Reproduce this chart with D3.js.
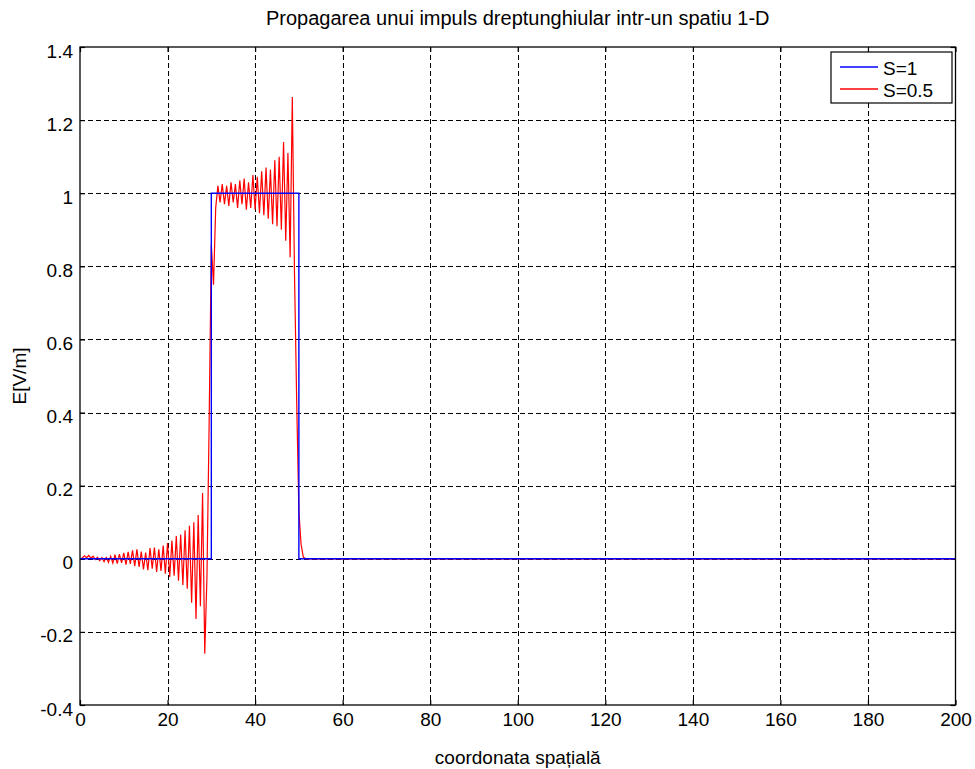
<!DOCTYPE html>
<html>
<head>
<meta charset="utf-8">
<script src="https://cdn.jsdelivr.net/npm/d3@7"></script>
<style>
  html, body { margin: 0; padding: 0; background: #fff; }
  svg { display: block; }
  text { font-family: "Liberation Sans", Arial, Helvetica, sans-serif; fill: #000; }
</style>
</head>
<body>
<svg id="chart" width="975" height="769"></svg>
<script>
// ---------------- data ----------------
const titleText = "Propagarea unui impuls dreptunghiular intr-un spatiu 1-D";
const xLabelText = "coordonata spațială";
const yLabelText = "E[V/m]";

const xTicks = [0, 20, 40, 60, 80, 100, 120, 140, 160, 180, 200];
const xTickLabels = ["0", "20", "40", "60", "80", "100", "120", "140", "160", "180", "200"];
const yTicks = [-0.4, -0.2, 0, 0.2, 0.4, 0.6, 0.8, 1, 1.2, 1.4];
const yTickLabels = ["-0.4", "-0.2", "0", "0.2", "0.4", "0.6", "0.8", "1", "1.2", "1.4"];

const seriesNames = ["S=1", "S=0.5"];
const seriesColors = ["#0000ff", "#ff0000"];

// S=1 : ideal rectangular pulse
const blueX = [0, 30, 30, 50, 50, 200];
const blueY = [0, 0, 1, 1, 0, 0];

// S=0.5 : dispersive pulse, sampled every 0.5 from 0 to 52, then flat to 200
const redStep = 0.5;
const redY = [
  0, 0.002, 0.008, 0.003, 0.009, 0.002, 0.007, -0.002, 0.004, -0.005,
  0.003, -0.008, 0.004, -0.010, 0.007, -0.012, 0.011, -0.013, 0.013, -0.011,
  0.016, -0.016, 0.019, -0.014, 0.023, -0.020, 0.026, -0.022, 0.020, -0.029,
  0.017, -0.031, 0.029, -0.027, 0.031, -0.036, 0.026, -0.033, 0.036, -0.041,
  0.043, -0.050, 0.050, -0.046, 0.062, -0.060, 0.066, -0.072, 0.078, -0.082,
  0.090, -0.120, 0.100, -0.165, 0.120, -0.130, 0.180, -0.260, -0.050, 0.370,
  0.860, 0.750, 0.960, 1.020, 0.975, 1.025, 0.970, 1.020, 0.965, 1.030,
  0.975, 1.025, 0.960, 1.035, 0.970, 1.040, 0.955, 1.030, 0.960, 1.050,
  0.955, 1.045, 0.945, 1.060, 0.940, 1.070, 0.930, 1.065, 0.915, 1.090,
  0.910, 1.100, 0.900, 1.140, 0.870, 1.110, 0.825, 1.263, 0.780, 0.430,
  0.130, 0.040, 0.005, 0, 0
];
const redTailX = 200;
const redTailY = 0;

// ---------------- layout ----------------
const plot = { left: 80, right: 955.5, top: 47, bottom: 705 };
const fontSize = 19;

const svg = d3.select("#chart");
svg.append("rect").attr("width", 975).attr("height", 769).attr("fill", "#fff");

const x = d3.scaleLinear().domain([0, 200]).range([plot.left, plot.right]);
const y = d3.scaleLinear().domain([-0.4, 1.4]).range([plot.bottom, plot.top]);

// grid
const grid = svg.append("g").attr("stroke", "#000").attr("stroke-width", 1)
  .attr("stroke-dasharray", "5,3").attr("shape-rendering", "crispEdges");
grid.selectAll("line.gx").data(xTicks.slice(1, -1)).enter().append("line")
  .attr("x1", d => Math.round(x(d)) + 0.5).attr("x2", d => Math.round(x(d)) + 0.5)
  .attr("y1", plot.top).attr("y2", plot.bottom);
grid.selectAll("line.gy").data(yTicks.slice(1, -1)).enter().append("line")
  .attr("y1", d => Math.round(y(d)) + 0.5).attr("y2", d => Math.round(y(d)) + 0.5)
  .attr("x1", plot.left).attr("x2", plot.right);

// axes
const fmtX = (d, i) => xTickLabels[i];
const fmtY = (d, i) => yTickLabels[i];

const gBottom = svg.append("g").attr("transform", `translate(0,${plot.bottom})`)
  .call(d3.axisBottom(x).tickValues(xTicks).tickFormat(fmtX).tickSize(-5).tickSizeOuter(0).tickPadding(7.5));
const gLeft = svg.append("g").attr("transform", `translate(${plot.left},0)`)
  .call(d3.axisLeft(y).tickValues(yTicks).tickFormat(fmtY).tickSize(-5).tickSizeOuter(0).tickPadding(7));
const gTop = svg.append("g").attr("transform", `translate(0,${plot.top})`)
  .call(d3.axisTop(x).tickValues(xTicks).tickFormat("").tickSize(-5).tickSizeOuter(0));
const gRight = svg.append("g").attr("transform", `translate(${plot.right},0)`)
  .call(d3.axisRight(y).tickValues(yTicks).tickFormat("").tickSize(-5).tickSizeOuter(0));

[gBottom, gLeft, gTop, gRight].forEach(g => {
  g.select(".domain").remove();
  g.selectAll(".tick line").attr("stroke", "#000").attr("stroke-width", 1.2);
  g.selectAll("text").attr("font-size", fontSize)
    .attr("font-family", '"Liberation Sans", Arial, sans-serif').attr("fill", "#000");
});
gLeft.selectAll("text").attr("dy", "0.53em");

// clip for lines
svg.append("clipPath").attr("id", "clip").append("rect")
  .attr("x", plot.left).attr("y", plot.top)
  .attr("width", plot.right - plot.left).attr("height", plot.bottom - plot.top);

const line = d3.line().x(d => x(d[0])).y(d => y(d[1]));

const redPts = redY.map((v, i) => [i * redStep, v]).concat([[redTailX, redTailY]]);
const bluePts = blueX.map((v, i) => [v, blueY[i]]);

const lines = svg.append("g").attr("clip-path", "url(#clip)");
lines.append("path").datum(redPts).attr("d", line)
  .attr("fill", "none").attr("stroke", seriesColors[1]).attr("stroke-width", 1.2);
lines.append("path").datum(bluePts).attr("d", line)
  .attr("fill", "none").attr("stroke", seriesColors[0]).attr("stroke-width", 1.4);

// box
svg.append("rect").attr("x", plot.left).attr("y", plot.top)
  .attr("width", plot.right - plot.left).attr("height", plot.bottom - plot.top)
  .attr("fill", "none").attr("stroke", "#000").attr("stroke-width", 1.3);

// title and labels
svg.append("text").attr("x", (plot.left + plot.right) / 2).attr("y", 25)
  .attr("text-anchor", "middle").attr("font-size", 20).text(titleText);
svg.append("text").attr("x", (plot.left + plot.right) / 2).attr("y", 764)
  .attr("text-anchor", "middle").attr("font-size", fontSize).text(xLabelText);
svg.append("text").attr("transform", `translate(26,${(plot.top + plot.bottom) / 2}) rotate(-90)`)
  .attr("text-anchor", "middle").attr("font-size", fontSize).text(yLabelText);

// legend
const leg = svg.append("g");
leg.append("rect").attr("x", 831).attr("y", 52).attr("width", 121).attr("height", 51)
  .attr("fill", "#fff").attr("stroke", "#000").attr("stroke-width", 1.2);
const legRows = leg.selectAll("g.row").data(seriesNames).enter().append("g")
  .attr("transform", (d, i) => `translate(0,${67 + i * 22})`);
legRows.append("line").attr("x1", 840).attr("x2", 878).attr("y1", 0).attr("y2", 0)
  .attr("stroke", (d, i) => seriesColors[i]).attr("stroke-width", 1.4);
legRows.append("text").attr("x", 883).attr("y", 8).attr("font-size", fontSize).text(d => d);
</script>
</body>
</html>
